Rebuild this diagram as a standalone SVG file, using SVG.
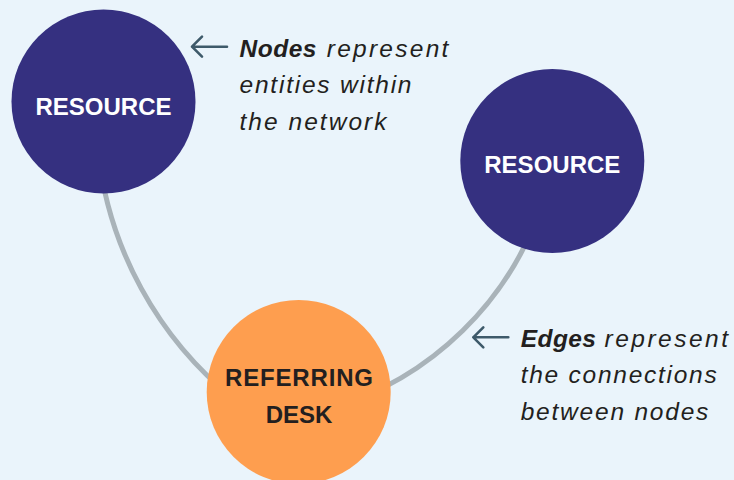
<svg xmlns="http://www.w3.org/2000/svg" xmlns:xlink="http://www.w3.org/1999/xlink" width="734" height="480" viewBox="0 0 734 480">
  <style>
    .bg { fill: #eaf4fb; }
    .edge { fill: none; stroke: #a9b3b9; stroke-width: 5; stroke-linecap: butt; }
    .resource { fill: #353080; }
    .desk { fill: #fe9e4f; }
    .label { font-family: "Liberation Sans", Arial, sans-serif; font-weight: 700; font-size: 24px; text-anchor: middle; }
    .label-light { fill: #ffffff; }
    .label-dark { fill: #231f20; }
    .note { font-family: "Liberation Sans", Arial, sans-serif; font-style: italic; font-size: 24.5px; fill: #231f20; }
    .note-bold { font-weight: 700; }
    .pointer { fill: none; stroke: #3e5a6a; stroke-width: 2.6; stroke-linecap: round; stroke-linejoin: round; }
  </style>
  <defs>
    <!-- left-pointing arrow, tip at origin -->
    <path id="left-arrow" d="M0 0 H35 M10 -10 L0 0 L10 10"/>
  </defs>

  <rect class="bg" x="0" y="0" width="734" height="480"/>

  <g id="connectors">
    <path class="edge" d="M97.9 150 A371 371 0 0 0 234.8 400"/>
    <path class="edge" d="M543.4 200 A319.4 319.4 0 0 1 330 408.7"/>
  </g>

  <g id="node-resource-left">
    <circle class="resource" cx="103.5" cy="101.5" r="92"/>
    <text class="label label-light" x="103.5" y="115">RESOURCE</text>
  </g>

  <g id="node-resource-right">
    <circle class="resource" cx="552.3" cy="161" r="92"/>
    <text class="label label-light" x="552.3" y="172.5">RESOURCE</text>
  </g>

  <g id="node-referring-desk">
    <circle class="desk" cx="298.7" cy="392" r="92"/>
    <text class="label label-dark" x="299" y="385.5" textLength="148" lengthAdjust="spacing">REFERRING</text>
    <text class="label label-dark" x="299" y="423">DESK</text>
  </g>

  <g id="note-nodes">
    <use xlink:href="#left-arrow" class="pointer" x="192" y="46.7"/>
    <text class="note note-bold" x="239.5" y="56.7" textLength="77" lengthAdjust="spacing">Nodes</text>
    <text class="note" x="326.7" y="56.7" textLength="121.7" lengthAdjust="spacing">represent</text>
    <text class="note" x="239.5" y="93.3" textLength="172" lengthAdjust="spacing">entities within</text>
    <text class="note" x="239.5" y="130" textLength="147" lengthAdjust="spacing">the network</text>
  </g>

  <g id="note-edges">
    <use xlink:href="#left-arrow" class="pointer" x="473.3" y="337.3"/>
    <text class="note note-bold" x="520.7" y="346.5" textLength="75.3" lengthAdjust="spacing">Edges</text>
    <text class="note" x="604.5" y="346.5" textLength="123.5" lengthAdjust="spacing">represent</text>
    <text class="note" x="520.7" y="383" textLength="196" lengthAdjust="spacing">the connections</text>
    <text class="note" x="520.7" y="420" textLength="187.6" lengthAdjust="spacing">between nodes</text>
  </g>
</svg>
